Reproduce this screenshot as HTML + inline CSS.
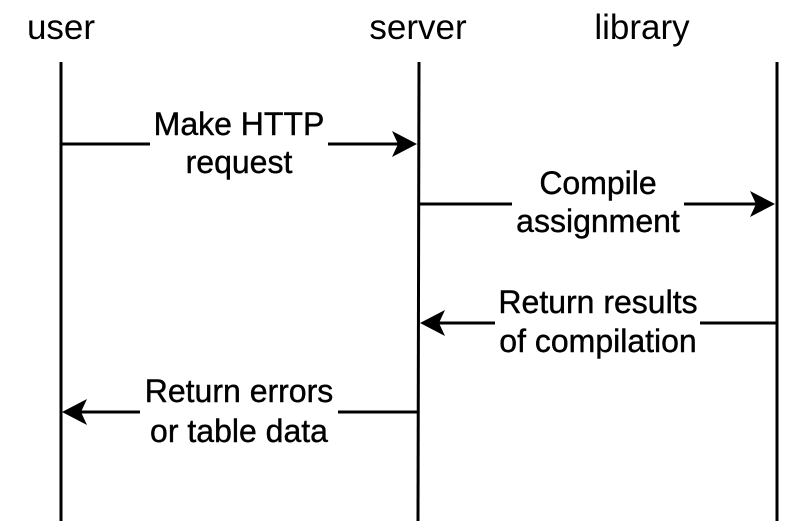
<!DOCTYPE html>
<html><head><style>body{margin:0;background:#fff}svg{display:block}</style></head><body>
<svg width="801" height="525" xmlns="http://www.w3.org/2000/svg" font-family="Liberation Sans, sans-serif" font-size="32" text-anchor="middle">
<rect width="801" height="525" fill="#fff"/>
<text x="61" y="39" font-size="35">user</text>
<text x="418" y="39" font-size="35">server</text>
<text x="642" y="39" font-size="35">library</text>
<g stroke="#000" stroke-width="3">
<line x1="61" y1="62" x2="61" y2="521"/>
<line x1="419" y1="62" x2="418" y2="521"/>
<line x1="777" y1="62" x2="777" y2="521"/>
<line x1="61" y1="144" x2="150" y2="144"/><line x1="328" y1="144" x2="400" y2="144"/>
<line x1="419" y1="204" x2="512" y2="204"/><line x1="684" y1="204" x2="758" y2="204"/>
<line x1="777" y1="323" x2="700" y2="323"/><line x1="495" y1="323" x2="438" y2="323"/>
<line x1="418" y1="412" x2="338" y2="412"/><line x1="140" y1="412" x2="80" y2="412"/>
</g>
<g fill="#000">
<path d="M417 144 L392 131 L398 144 L392 157 Z"/>
<path d="M775 204 L750 191 L756 204 L750 217 Z"/>
<path d="M420 323 L445 310 L439 323 L445 336 Z"/>
<path d="M62 412 L87 399 L81 412 L87 425 Z"/>
</g>
<g stroke="#000" stroke-width="0.4">
<text x="239" y="135">Make HTTP</text><text x="239" y="173">request</text>
<text x="598" y="194">Compile</text><text x="598" y="232">assignment</text>
<text x="598" y="313">Return results</text><text x="598" y="352">of compilation</text>
<text x="239" y="402">Return errors</text><text x="239" y="442">or table data</text>
</g>
</svg>
</body></html>
